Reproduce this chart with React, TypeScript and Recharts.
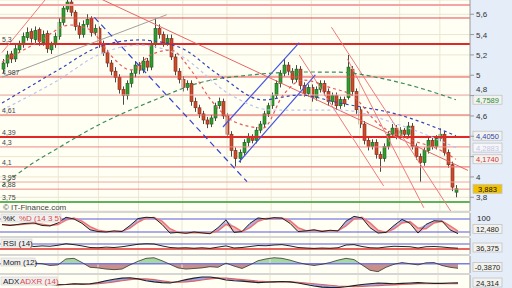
import React from 'react';
import { ComposedChart, Bar, Line, Area, XAxis, YAxis, CartesianGrid, ReferenceLine } from 'recharts';

// daily candles, oldest first
const opens = [
  5.06, 5.12, 5.21, 5.16, 5.25, 5.30, 5.37, 5.43, 5.35, 5.45,
  5.32, 5.41, 5.25, 5.30, 5.38, 5.52, 5.65, 5.72, 5.62, 5.48,
  5.40, 5.50, 5.56, 5.42, 5.46, 5.31, 5.22, 5.12, 5.04, 4.98,
  4.86, 4.80, 4.92, 5.02, 5.10, 5.05, 5.14, 5.08, 5.30, 5.46,
  5.40, 5.32, 5.36, 5.18, 5.04, 4.96, 4.88, 4.92, 4.74, 4.68,
  4.62, 4.56, 4.52, 4.58, 4.70, 4.74, 4.60, 4.42, 4.26, 4.18,
  4.24, 4.34, 4.40, 4.36, 4.46, 4.52, 4.62, 4.70, 4.80, 4.92,
  5.02, 5.10, 5.04, 4.96, 5.06, 4.90, 4.82, 4.88, 4.78, 4.86,
  4.92, 4.84, 4.74, 4.80, 4.70, 4.76, 4.78, 5.06, 4.84, 4.66,
  4.52, 4.36, 4.30, 4.34, 4.22, 4.18, 4.30, 4.42, 4.48, 4.40,
  4.46, 4.42, 4.50, 4.30, 4.20, 4.14, 4.26, 4.36, 4.30, 4.38,
  4.42, 4.24, 4.12, 3.85,
];
const highs = [
  5.16, 5.24, 5.24, 5.30, 5.34, 5.42, 5.47, 5.46, 5.48, 5.47,
  5.44, 5.44, 5.33, 5.42, 5.56, 5.70, 5.74, 5.74, 5.64, 5.52,
  5.54, 5.60, 5.58, 5.50, 5.48, 5.34, 5.25, 5.15, 5.08, 5.01,
  4.89, 4.95, 5.05, 5.14, 5.13, 5.18, 5.17, 5.34, 5.56, 5.50,
  5.43, 5.40, 5.40, 5.21, 5.07, 4.99, 4.95, 4.95, 4.78, 4.71,
  4.65, 4.59, 4.61, 4.73, 4.78, 4.77, 4.63, 4.45, 4.29, 4.27,
  4.37, 4.43, 4.42, 4.49, 4.55, 4.65, 4.73, 4.83, 4.95, 5.05,
  5.16, 5.13, 5.07, 5.10, 5.09, 4.93, 4.91, 4.91, 4.89, 4.95,
  4.95, 4.87, 4.83, 4.83, 4.79, 4.79, 5.20, 5.09, 4.87, 4.69,
  4.55, 4.39, 4.37, 4.37, 4.25, 4.33, 4.45, 4.52, 4.51, 4.49,
  4.48, 4.54, 4.53, 4.33, 4.23, 4.29, 4.39, 4.39, 4.41, 4.48,
  4.45, 4.27, 4.15, 3.92,
];
const lows = [
  5.02, 5.08, 5.12, 5.13, 5.22, 5.27, 5.34, 5.32, 5.31, 5.29,
  5.29, 5.22, 5.21, 5.27, 5.35, 5.49, 5.62, 5.58, 5.44, 5.36,
  5.37, 5.47, 5.38, 5.39, 5.27, 5.19, 5.08, 5.00, 4.93, 4.82,
  4.71, 4.76, 4.88, 4.98, 5.01, 5.02, 5.04, 5.05, 5.27, 5.36,
  5.28, 5.29, 5.15, 5.00, 4.92, 4.84, 4.85, 4.70, 4.64, 4.58,
  4.52, 4.48, 4.49, 4.55, 4.67, 4.57, 4.38, 4.20, 4.10, 4.14,
  4.21, 4.30, 4.33, 4.33, 4.43, 4.49, 4.59, 4.67, 4.77, 4.88,
  4.99, 5.00, 4.92, 4.93, 4.86, 4.79, 4.79, 4.74, 4.75, 4.83,
  4.80, 4.70, 4.71, 4.66, 4.67, 4.69, 4.76, 4.80, 4.62, 4.48,
  4.32, 4.26, 4.27, 4.18, 4.05, 4.15, 4.27, 4.39, 4.37, 4.37,
  4.39, 4.39, 4.27, 4.17, 3.95, 4.11, 4.23, 4.27, 4.27, 4.35,
  4.21, 4.09, 3.86, 3.80,
];
const closes = [
  5.12, 5.20, 5.16, 5.26, 5.30, 5.38, 5.42, 5.36, 5.44, 5.33,
  5.40, 5.26, 5.30, 5.38, 5.52, 5.66, 5.72, 5.62, 5.48, 5.40,
  5.50, 5.55, 5.42, 5.46, 5.30, 5.22, 5.12, 5.04, 4.98, 4.86,
  4.80, 4.92, 5.02, 5.10, 5.05, 5.14, 5.08, 5.30, 5.46, 5.40,
  5.32, 5.36, 5.18, 5.04, 4.96, 4.88, 4.92, 4.74, 4.68, 4.62,
  4.56, 4.52, 4.58, 4.70, 4.74, 4.60, 4.42, 4.26, 4.18, 4.24,
  4.34, 4.40, 4.36, 4.46, 4.52, 4.62, 4.70, 4.80, 4.92, 5.02,
  5.10, 5.04, 4.96, 5.06, 4.90, 4.82, 4.88, 4.78, 4.86, 4.92,
  4.84, 4.74, 4.80, 4.70, 4.76, 4.72, 5.08, 4.84, 4.66, 4.52,
  4.36, 4.30, 4.34, 4.22, 4.18, 4.30, 4.42, 4.48, 4.40, 4.46,
  4.42, 4.50, 4.30, 4.20, 4.14, 4.26, 4.36, 4.30, 4.38, 4.42,
  4.24, 4.12, 3.90, 3.883,
];
const SLOTS = 117; // 114 days + a little room before the axis

// moving averages, read at a few days along each dashed curve
const maGreenDays = [0, 7, 14, 24, 38, 49, 62, 74, 84, 94, 104, 113];
const maGreen = [3.911, 4.118, 4.285, 4.511, 4.757, 4.924, 5.003, 5.032, 5.03, 4.973, 4.875, 4.7589];
const maBlueDays = [0, 14, 24, 34, 44, 54, 65, 74, 84, 99, 113];
const maBlue = [4.727, 5.052, 5.278, 5.347, 5.278, 5.003, 4.757, 4.806, 4.727, 4.609, 4.405];
const maLilacDays = [0, 14, 24, 34, 44, 57, 67, 84, 99, 113];
const maLilac = [4.658, 4.953, 5.2, 5.297, 5.2, 4.806, 4.658, 4.658, 4.511, 4.2883];
const maRedDays = [0, 9, 17, 22, 27, 32, 37, 42, 47, 52, 58, 65, 70, 75, 82, 87, 94, 102, 109, 113];
const maRed = [5.13, 5.327, 5.494, 5.445, 5.199, 5.052, 5.199, 5.248, 5.052, 4.757, 4.54, 4.481, 4.806, 4.953, 4.875, 4.806, 4.511, 4.363, 4.265, 4.174];

// horizontal support / resistance levels
const levelPrices = [5.69, 5.563, 5.307, 4.983, 4.806, 4.609, 4.393, 4.295, 4.098, 3.95, 3.88, 3.754];
const levelLabels = ['', '', '5,3', '4,987', '', '4,61', '4,39', '4,3', '4,1', '3,95', '3,88', '3,75'];

// trend lines: [day, price] -> [day, price]
const trendLines = [
  [[0, 5.223], [12, 5.803]],
  [[0, 4.981], [41, 5.595]],
  [[25, 5.743], [116, 4.064]],
  [[82, 5.473], [112, 3.646]],
  [[74, 5.199], [95, 3.911]],
  [[86, 5.16], [105, 3.697]],
  [[55, 4.491], [74, 5.321]],
  [[59, 4.147], [78, 5.003]],
  [[23, 5.569], [61, 3.953]],
];

// value tags on the price axis
const tagPrices = [4.7589, 4.405, 4.2883, 4.174, 3.883];
const tagTexts = ['4,7589', '4,4050', '4,2883', '4,1740', '3,883'];

const priceTicks = [3.8, 4, 4.2, 4.4, 4.6, 4.8, 5, 5.2, 5.4, 5.6];
const gridDays = [14, 24, 34, 45, 56, 67, 77, 89, 99, 109];

// indicators, one reading every second day
const stochK = [55, 50, 55, 60, 62, 50, 48, 62, 88, 80, 60, 30, 22, 20, 25, 22, 50, 82, 88, 86, 55, 15, 18, 14, 20, 16, 12, 40, 76, 18, 22, 60, 85, 80, 86, 84, 60, 22, 25, 30, 22, 28, 25, 70, 92, 85, 40, 15, 18, 50, 78, 60, 15, 55, 72, 70, 30, 12.48];
const stochD = [54, 52, 53, 57, 60, 56, 50, 55, 75, 84, 70, 45, 28, 22, 22, 23, 38, 65, 84, 87, 70, 35, 18, 16, 18, 17, 14, 25, 55, 45, 22, 40, 70, 82, 84, 85, 72, 40, 26, 28, 25, 26, 26, 48, 80, 88, 62, 28, 18, 35, 62, 68, 38, 35, 62, 70, 48, 24];
const rsi = [55, 58, 52, 60, 50, 55, 52, 60, 72, 65, 55, 42, 40, 45, 42, 48, 58, 68, 72, 70, 55, 42, 38, 40, 36, 40, 35, 45, 55, 38, 42, 50, 58, 56, 62, 65, 55, 42, 38, 35, 38, 36, 40, 62, 65, 50, 40, 38, 46, 52, 50, 48, 38, 48, 50, 46, 40, 36.375];
const mom = [0.05, 0.1, -0.05, 0.1, 0.05, 0.0, -0.15, -0.1, 0.4, 0.45, 0.1, -0.3, -0.35, -0.45, -0.5, -0.45, -0.1, 0.2, 0.45, 0.5, 0.25, -0.05, -0.35, -0.45, -0.4, -0.35, -0.25, -0.3, 0.05, -0.2, -0.4, -0.1, 0.25, 0.4, 0.5, 0.45, 0.3, 0.1, -0.05, -0.15, -0.05, 0.1, 0.3, 0.45, 0.35, -0.1, -0.55, -0.67, -0.3, -0.05, 0.1, 0.0, -0.1, 0.08, 0.1, -0.15, -0.3, -0.387];
const adx = [20, 20, 21, 22, 22, 21, 20, 19, 20, 22, 21, 22, 25, 30, 34, 37, 38, 35, 30, 27, 25, 24, 28, 33, 37, 40, 40, 37, 32, 30, 29, 27, 25, 26, 27, 28, 27, 24, 20, 16, 13, 12, 12, 14, 17, 20, 22, 24, 23, 22, 23, 24, 25, 24, 23, 23, 24, 24.314];
const adxr = [21, 21, 21, 21, 22, 22, 21, 20, 20, 21, 21, 21, 22, 24, 27, 30, 33, 35, 35, 33, 30, 27, 26, 27, 29, 32, 35, 37, 37, 35, 33, 31, 29, 28, 27, 27, 27, 26, 24, 22, 20, 18, 16, 15, 14, 15, 16, 17, 18, 19, 20, 21, 22, 22, 22, 22, 22, 22];

const FONT = '"Liberation Sans", Arial, sans-serif';
const PLOT_BG = '#fffff4';
const GRID = '#ebe6d2';
const NO_MARGIN = { top: 0, right: 0, bottom: 0, left: 0 };
const levelColors = ['#f4a4a4', '#e84848', '#e02828', '#e84848', '#f2acac', '#e85858', '#e02828', '#f08888', '#ee7c7c', '#f4a4a4', '#f08888', '#2a9a2a'];
const levelWidths = [2, 1, 2, 1, 1, 1, 2, 1, 1.2, 1, 1, 1.5];
const trendColors = ['#f07a7a', '#a0a0a0', '#e86464', '#f07a7a', '#f07a7a', '#f07a7a', '#4455dd', '#4455dd', '#3344cc'];
const tagColors = ['#2a8a3a', '#3344aa', '#c4c4ee', '#dd3333', '#111'];
const tagBgs = ['#f2f2ee', '#f2f2ee', '#f6f6f6', '#f2f2ee', '#f2c200'];

const fmt = (v: number) => String(v).replace('.', ',');

const Candle = (p: any) => {
  const { x, y, width, height, payload } = p;
  if (!payload || payload.h == null || !height) return null;
  const top0 = height < 0 ? y + height : y;
  const hh = Math.abs(height);
  const { o, h, l, c } = payload;
  const k = hh / (h - l);
  const top = top0 + (h - Math.max(o, c)) * k;
  const bot = top0 + (h - Math.min(o, c)) * k;
  const cx = Math.round(x + width / 2) + 0.5;
  const up = c >= o;
  return (
    <g>
      <line x1={cx} x2={cx} y1={top0} y2={top0 + hh} stroke="#4a4a4a" strokeWidth={1} />
      <rect x={cx - 1.5} y={top} width={3} height={Math.max(bot - top, 1)}
        fill={up ? '#2f9e2f' : '#cf4a2a'} stroke={up ? '#1d5a1d' : '#7a2a1a'} strokeWidth={0.6} />
    </g>
  );
};

const PriceTick = (p: any) => {
  const v = p.payload.value;
  if (v === 4.2 || v === 4.4) return <g />;
  return (
    <text x={p.x} y={p.y} dy={v === 4.8 ? -4 : 3} fontSize={8} fill="#333" fontFamily={FONT}>{fmt(v)}</text>
  );
};

const TagLabel = (p: any) => {
  const vb = p.viewBox || {};
  const x = vb.x + vb.width + 3;
  const y = vb.y;
  return (
    <g>
      <rect x={x} y={y - 4.5} width={29} height={9} fill={p.bg} stroke="#c4c4c4" strokeWidth={0.8} />
      <text x={x + 14.5} y={y + 3} textAnchor="middle" fontSize={7.5} fill={p.color} fontFamily={FONT}>{p.text}</text>
    </g>
  );
};

const SubTag = ({ y, text }: any) => (
  <g>
    <rect x={473} y={y - 4.5} width={29} height={9} fill="#f2f2ee" stroke="#c4c4c4" strokeWidth={0.8} />
    <text x={487.5} y={y + 3} textAnchor="middle" fontSize={7.5} fill="#222" fontFamily={FONT}>{text}</text>
  </g>
);

export default function App() {
  const mainData: any[] = Array.from({ length: SLOTS }, (_, i) => ({
    i, o: opens[i], h: highs[i], l: lows[i], c: closes[i],
  }));
  maGreenDays.forEach((d, k) => { mainData[d].maG = maGreen[k]; });
  maBlueDays.forEach((d, k) => { mainData[d].maB = maBlue[k]; });
  maLilacDays.forEach((d, k) => { mainData[d].maL = maLilac[k]; });
  maRedDays.forEach((d, k) => { mainData[d].maR = maRed[k]; });

  const subData = stochK.map((k, j) => ({
    j, k, d: stochD[j], rsi: rsi[j], mom: mom[j], adx: adx[j], adxr: adxr[j],
  }));

  const momDomain = [-0.78, 0.647];
  const momOff = momDomain[1] / (momDomain[1] - momDomain[0]);

  const subX = <XAxis dataKey="j" type="number" domain={[-0.25, 58.5]} hide allowDataOverflow />;
  const subGrid = gridDays.map((d) => (
    <ReferenceLine key={'g' + d} x={d / 2} stroke={GRID} strokeWidth={1} />
  ));

  return (
    <div style={{
      position: 'absolute', left: 0, top: 0, width: 512, height: 288, overflow: 'hidden',
      background: 'linear-gradient(to right, #d6d6d6 0px, #d6d6d6 470px, #e4edf8 470px, #e4edf8 512px)',
    }}>
      <div style={{ position: 'absolute', left: 0, top: 0 }}>
        <ComposedChart width={512} height={211} data={mainData} margin={NO_MARGIN} barCategoryGap={0}>
          <CartesianGrid fill={PLOT_BG} stroke={GRID} vertical={false} />
          <XAxis dataKey="i" type="category" hide />
          <YAxis orientation="right" width={42} type="number" domain={[3.665, 5.74]} allowDataOverflow
            ticks={priceTicks} interval={0} tick={<PriceTick />} tickSize={4} tickMargin={2}
            stroke="#9a9a9a" />
          {gridDays.map((d) => (
            <ReferenceLine key={'v' + d} x={d} stroke={GRID} strokeWidth={1} />
          ))}
          {levelPrices.map((p, k) => (
            <ReferenceLine key={'l' + k} y={p} stroke={levelColors[k]} strokeWidth={levelWidths[k]}
              label={levelLabels[k] ? { value: levelLabels[k], position: 'insideBottomLeft', offset: 2, fontSize: 7, fill: '#444', fontFamily: FONT } : undefined} />
          ))}
          {trendLines.map((t, k) => (
            <ReferenceLine key={'t' + k} ifOverflow="hidden" stroke={trendColors[k]} strokeWidth={k >= 6 ? 1.2 : 1}
              strokeDasharray={k === 8 ? '6 4' : undefined}
              segment={[{ x: t[0][0], y: t[0][1] }, { x: t[1][0], y: t[1][1] }]} />
          ))}
          <Line dataKey="maG" stroke="#3d8c5c" strokeWidth={1.2} strokeDasharray="4 3" dot={false} activeDot={false} connectNulls type="monotone" isAnimationActive={false} />
          <Line dataKey="maL" stroke="#bcc4f2" strokeWidth={1.2} strokeDasharray="3 3" dot={false} activeDot={false} connectNulls type="monotone" isAnimationActive={false} />
          <Line dataKey="maB" stroke="#3344bb" strokeWidth={1.2} strokeDasharray="3 3" dot={false} activeDot={false} connectNulls type="monotone" isAnimationActive={false} />
          <Line dataKey="maR" stroke="#e85a5a" strokeWidth={1.2} strokeDasharray="3 3" dot={false} activeDot={false} connectNulls type="monotone" isAnimationActive={false} />
          <Bar dataKey={(d: any) => (d.h == null ? null : [d.l, d.h])} barSize={3} shape={<Candle />} activeBar={false} isAnimationActive={false} />
          {tagPrices.map((p, k) => (
            <ReferenceLine key={'tag' + k} y={p} stroke="none"
              label={<TagLabel text={tagTexts[k]} color={tagColors[k]} bg={tagBgs[k]} />} />
          ))}
        </ComposedChart>
      </div>

      <div style={{ position: 'absolute', left: 0, top: 213 }}>
        <ComposedChart width={512} height={23} data={subData} margin={NO_MARGIN}>
          <CartesianGrid fill={PLOT_BG} horizontal={false} vertical={false} />
          {subX}
          <YAxis orientation="right" width={42} type="number" domain={[1.5, 107.7]} allowDataOverflow tick={false} tickLine={false} stroke="#9a9a9a" />
          {subGrid}
          <ReferenceLine y={80} stroke="#5a5ae0" strokeWidth={1.2} />
          <ReferenceLine y={20} stroke="#5a5ae0" strokeWidth={1.2} />
          <Area dataKey={(d: any) => (d.k >= d.d ? [d.d, d.k] : [d.d, d.d])} stroke="none" fill="#9090e6" fillOpacity={0.7} activeDot={false} isAnimationActive={false} />
          <Area dataKey={(d: any) => (d.k < d.d ? [d.k, d.d] : [d.d, d.d])} stroke="none" fill="#f0a4a4" fillOpacity={0.8} activeDot={false} isAnimationActive={false} />
          <Line dataKey="d" stroke="#ee7474" strokeWidth={1.5} dot={false} activeDot={false} isAnimationActive={false} />
          <Line dataKey="k" stroke="#222" strokeWidth={1} dot={false} activeDot={false} isAnimationActive={false} />
        </ComposedChart>
      </div>

      <div style={{ position: 'absolute', left: 0, top: 238 }}>
        <ComposedChart width={512} height={16} data={subData} margin={NO_MARGIN}>
          <CartesianGrid fill={PLOT_BG} horizontal={false} vertical={false} />
          {subX}
          <YAxis orientation="right" width={42} type="number" domain={[-10, 118]} allowDataOverflow tick={false} tickLine={false} stroke="#9a9a9a" />
          {subGrid}
          <ReferenceLine y={70} stroke="#5a5ae0" strokeWidth={1.2} />
          <ReferenceLine y={30} stroke="#e03030" strokeWidth={1.5} />
          <Line dataKey="rsi" stroke="#222" strokeWidth={1} dot={false} activeDot={false} isAnimationActive={false} />
        </ComposedChart>
      </div>

      <div style={{ position: 'absolute', left: 0, top: 256 }}>
        <ComposedChart width={512} height={17} data={subData} margin={NO_MARGIN}>
          <defs>
            <linearGradient id="momFill" gradientUnits="userSpaceOnUse" x1={0} y1={0} x2={0} y2={17}>
              <stop offset={momOff} stopColor="#a6d9a0" />
              <stop offset={momOff} stopColor="#c99088" />
            </linearGradient>
          </defs>
          <CartesianGrid fill={PLOT_BG} horizontal={false} vertical={false} />
          {subX}
          <YAxis orientation="right" width={42} type="number" domain={momDomain} allowDataOverflow tick={false} tickLine={false} stroke="#9a9a9a" />
          {subGrid}
          <Area dataKey="mom" baseValue={0} stroke="none" fill="url(#momFill)" fillOpacity={1} activeDot={false} isAnimationActive={false} />
          <ReferenceLine y={0} stroke="#7b7bee" strokeWidth={1.5} />
          <Line dataKey="mom" stroke="#333" strokeWidth={0.8} dot={false} activeDot={false} isAnimationActive={false} />
        </ComposedChart>
      </div>

      <div style={{ position: 'absolute', left: 0, top: 275 }}>
        <ComposedChart width={512} height={17} data={subData} margin={NO_MARGIN}>
          <CartesianGrid fill={PLOT_BG} horizontal={false} vertical={false} />
          {subX}
          <YAxis orientation="right" width={42} type="number" domain={[0, 45.4]} allowDataOverflow tick={false} tickLine={false} stroke="#9a9a9a" />
          {subGrid}
          <Area dataKey={(d: any) => [d.adxr, d.adx]} stroke="none" fill="#7d8ee6" fillOpacity={0.8} activeDot={false} isAnimationActive={false} />
          <Line dataKey="adxr" stroke="#e06060" strokeWidth={1.2} dot={false} activeDot={false} isAnimationActive={false} />
          <Line dataKey="adx" stroke="#222" strokeWidth={1.2} dot={false} activeDot={false} isAnimationActive={false} />
        </ComposedChart>
      </div>

      <svg width={512} height={288} style={{ position: 'absolute', left: 0, top: 0, pointerEvents: 'none' }}>
        <text x={3} y={210} fontSize={8} fill="#444" fontFamily={FONT}>© IT-Finance.com</text>

        <rect x={1} y={214} width={60} height={8} fill="#efefef" stroke="#cfcfcf" strokeWidth={0.6} />
        <text x={3} y={221} fontSize={8} fill="#222" fontFamily={FONT}>%K</text>
        <text x={19} y={221} fontSize={8} fill="#e04848" fontFamily={FONT}>%D (14 3 5)</text>

        <rect x={1} y={239} width={31} height={8} fill="#efefef" stroke="#cfcfcf" strokeWidth={0.6} />
        <text x={3} y={245.5} fontSize={8} fill="#222" fontFamily={FONT}>RSI (14)</text>

        <rect x={1} y={258} width={34} height={8} fill="#efefef" stroke="#cfcfcf" strokeWidth={0.6} />
        <text x={3} y={264.5} fontSize={8} fill="#222" fontFamily={FONT}>Mom (12)</text>

        <rect x={1} y={277} width={56} height={8} fill="#efefef" stroke="#cfcfcf" strokeWidth={0.6} />
        <text x={3} y={283.5} fontSize={8} fill="#222" fontFamily={FONT}>ADX</text>
        <text x={20} y={283.5} fontSize={8} fill="#e04848" fontFamily={FONT}>ADXR (14)</text>

        <text x={477} y={220.5} fontSize={8} fill="#222" fontFamily={FONT}>100</text>
        <SubTag y={229} text="12,480" />
        <SubTag y={247.5} text="36,375" />
        <SubTag y={267} text="-0,3870" />
        <SubTag y={282.5} text="24,314" />
      </svg>
    </div>
  );
}
